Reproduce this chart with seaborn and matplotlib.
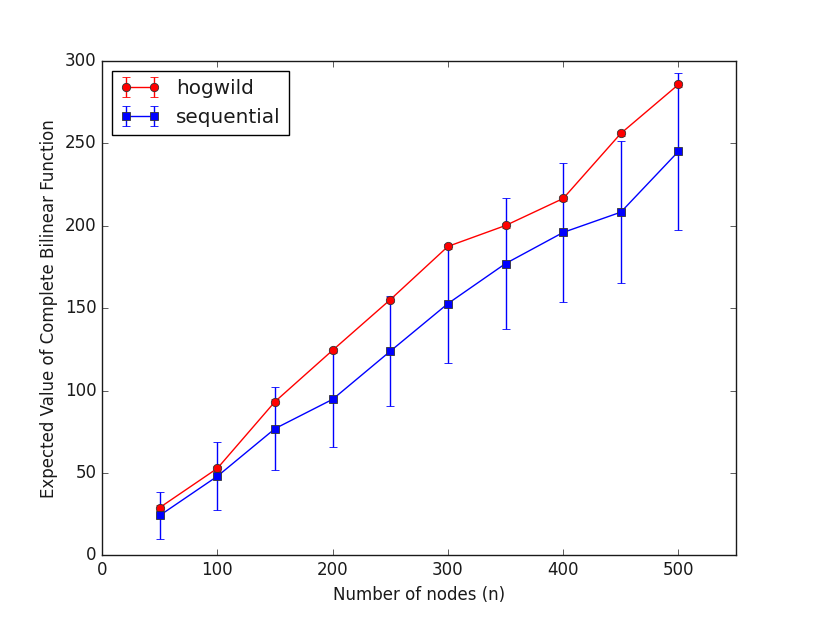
import matplotlib
matplotlib.use("Agg")
import matplotlib.pyplot as plt
import seaborn as sns
import pandas as pd

# Datos
nodes = [50, 100, 150, 200, 250, 300, 350, 400, 450, 500]
hogwild_mean = [29.0, 52.8, 93.3, 124.5, 155.2, 187.5, 200.2, 216.6, 256.1, 285.8]
hogwild_err = [1.5, 1.5, 1.5, 1.5, 1.5, 1.5, 1.5, 1.5, 1.5, 1.5]
sequential_mean = [24.2, 48.0, 76.9, 94.7, 123.9, 152.8, 177.1, 196.0, 208.3, 245.2]
sequential_err = [14.2, 20.6, 25.0, 29.0, 33.4, 36.0, 40.0, 42.0, 43.0, 47.7]

df = pd.DataFrame({
    "nodes": nodes,
    "hogwild": hogwild_mean,
    "hogwild_err": hogwild_err,
    "sequential": sequential_mean,
    "sequential_err": sequential_err,
})

sns.set_theme(style="ticks")
plt.style.use("classic")

fig = plt.figure(figsize=(8.17, 6.17), dpi=100)
ax = fig.add_axes([0.125, 0.1, 0.776, 0.801])

ax.errorbar(df["nodes"], df["hogwild"], yerr=df["hogwild_err"],
            fmt="-o", color="red", ecolor="red", markersize=6,
            markeredgecolor="#333333", markeredgewidth=0.6,
            capsize=3, label="hogwild")
ax.errorbar(df["nodes"], df["sequential"], yerr=df["sequential_err"],
            fmt="-s", color="blue", ecolor="blue", markersize=6,
            markeredgecolor="#333333", markeredgewidth=0.6,
            capsize=3, label="sequential")

ax.set_xlim(0, 550)
ax.set_ylim(0, 300)
ax.set_xticks(range(0, 501, 100))
ax.set_yticks(range(0, 301, 50))
ax.set_xlabel("Number of nodes (n)", fontsize=12)
ax.set_ylabel("Expected Value of Complete Bilinear Function", fontsize=12)
ax.tick_params(labelsize=12)

leg = ax.legend(loc="upper left", numpoints=2, fontsize=14.4, fancybox=False)
leg.get_frame().set_edgecolor("black")

fig.savefig("out.png", dpi=100, facecolor="white")
